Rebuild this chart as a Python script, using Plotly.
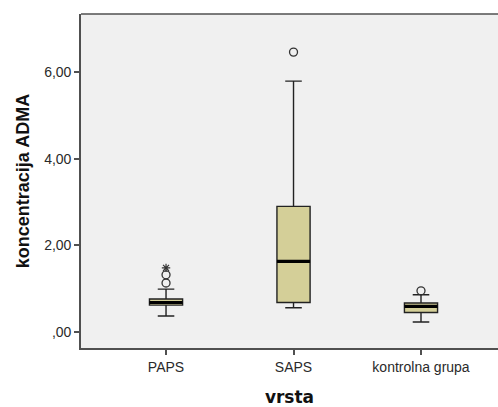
import plotly.graph_objects as go

categories = ["PAPS", "SAPS", "kontrolna grupa"]
q1 = [0.62, 0.68, 0.45]
median = [0.68, 1.63, 0.59]
q3 = [0.76, 2.90, 0.67]
lower_whisker = [0.37, 0.56, 0.23]
upper_whisker = [0.99, 5.79, 0.86]
outlier_x = [0, 0, 1, 2]
outlier_y = [1.13, 1.32, 6.46, 0.95]
extreme_x = [0]
extreme_y = [1.48]
y_tickvals = [0, 2, 4, 6]
y_ticktext = [",00", "2,00", "4,00", "6,00"]

box_fill = "#d4cf98"
line_col = "#222222"
frame_col = "#505050"
box_w = 0.26

fig = go.Figure()
for i, c in enumerate(categories):
    fig.add_trace(go.Box(
        x=[i], q1=[q1[i]], median=[median[i]], q3=[q3[i]],
        lowerfence=[lower_whisker[i]], upperfence=[upper_whisker[i]],
        fillcolor=box_fill, line=dict(color=line_col, width=1.4),
        width=box_w, whiskerwidth=0.5, boxpoints=False, showlegend=False,
        hoverinfo="skip"))
    fig.add_trace(go.Scatter(
        x=[i - box_w / 2, i + box_w / 2], y=[median[i], median[i]],
        mode="lines", line=dict(color="#000000", width=3.2),
        showlegend=False, hoverinfo="skip"))

fig.add_trace(go.Scatter(
    x=outlier_x, y=outlier_y, mode="markers",
    marker=dict(symbol="circle-open", size=8, color="#333333", line=dict(width=1.3)),
    showlegend=False))
fig.add_trace(go.Scatter(
    x=extreme_x, y=extreme_y, mode="markers",
    marker=dict(symbol="asterisk-open", size=7, color="#333333", line=dict(width=1.2)),
    showlegend=False))

# plot background extending past the right edge, and top frame line
fig.add_shape(type="rect", xref="paper", yref="paper", x0=0, x1=1.1, y0=0, y1=1,
              fillcolor="#f0f0f0", line=dict(width=0), layer="below")
fig.add_shape(type="line", xref="paper", yref="paper", x0=0, x1=1.1, y0=1, y1=1,
              line=dict(color=frame_col, width=1.6))

font_fam = "Liberation Sans, Arial, sans-serif"
fig.update_layout(
    width=498, height=407,
    margin=dict(l=81, r=0, t=14, b=59),
    paper_bgcolor="white", plot_bgcolor="rgba(0,0,0,0)",
    font=dict(family=font_fam, size=14, color="#2a2a2a"),
    xaxis=dict(
        range=[-0.667, 2.604], tickvals=[0, 1, 2], ticktext=categories,
        showgrid=False, zeroline=False, showline=True, mirror=False,
        linecolor=frame_col, linewidth=1.6, ticks="outside", ticklen=5,
        tickcolor=frame_col, tickwidth=1.6,
        title=dict(text="<b>vrsta</b>", font=dict(size=17, family="DejaVu Sans", color="#111111"), standoff=20)),
    yaxis=dict(
        range=[-0.37, 7.34], tickvals=y_tickvals, ticktext=y_ticktext,
        showgrid=False, zeroline=False, showline=True, mirror=False,
        linecolor=frame_col, linewidth=1.6, ticks="outside", ticklen=5,
        tickcolor=frame_col, tickwidth=1.6,
        title=dict(text="<b>koncentracija ADMA</b>", font=dict(size=18, family=font_fam, color="#111111"), standoff=10)),
)

fig.write_html("out.html")
